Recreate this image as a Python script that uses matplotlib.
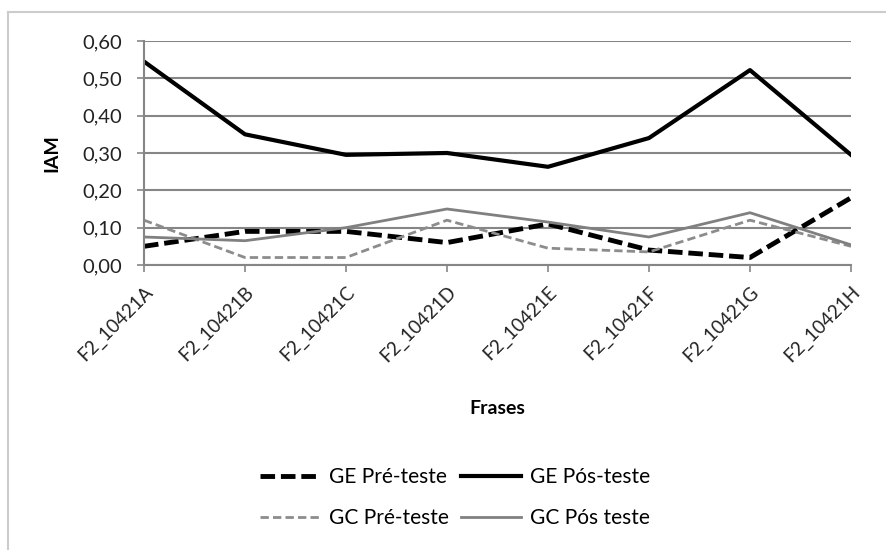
import matplotlib.pyplot as plt
from matplotlib.lines import Line2D

frases = ['F2_10421A', 'F2_10421B', 'F2_10421C', 'F2_10421D',
          'F2_10421E', 'F2_10421F', 'F2_10421G', 'F2_10421H']
ge_pre = [0.05, 0.09, 0.09, 0.06, 0.11, 0.04, 0.02, 0.18]
ge_pos = [0.545, 0.35, 0.295, 0.30, 0.263, 0.34, 0.522, 0.295]
gc_pre = [0.12, 0.02, 0.02, 0.12, 0.045, 0.035, 0.12, 0.05]
gc_pos = [0.075, 0.065, 0.10, 0.15, 0.115, 0.075, 0.14, 0.054]
y_ticks = [0.0, 0.1, 0.2, 0.3, 0.4, 0.5, 0.6]

plt.rcParams['font.family'] = ['Lato', 'DejaVu Sans']

fig = plt.figure(figsize=(8.87, 5.5), dpi=100)
ax = fig.add_axes([0.1623, 0.5182, 0.7971, 0.4073])

x = range(len(frases))
l1, = ax.plot(x, ge_pre, color='black', lw=3.5, ls=(0, (3, 1.2)), label='GE Pré-teste')
l2, = ax.plot(x, ge_pos, color='black', lw=3.0, label='GE Pós-teste')
l3, = ax.plot(x, gc_pre, color='#8c8c8c', lw=2.0, ls=(0, (3, 1.5)), label='GC Pré-teste')
l4, = ax.plot(x, gc_pos, color='#808080', lw=2.0, label='GC Pós teste')

ax.set_xlim(0, len(frases) - 1)
ax.set_ylim(0, 0.6)
ax.set_yticks(y_ticks)
ax.set_yticklabels([f'{v:.2f}'.replace('.', ',') for v in y_ticks], fontsize=14.5, color='#222222')
ax.set_xticks(list(x))
ax.set_xticklabels(frases, rotation=45, ha='right', va='top', rotation_mode='anchor',
                   fontsize=13.5, color='#222222')
ax.tick_params(axis='both', direction='out', length=5, width=1.2, color='#868686')
ax.tick_params(axis='y', pad=11)
ax.tick_params(axis='x', pad=8)

ax.grid(axis='y', color='#868686', lw=1.5)
ax.set_axisbelow(True)
for s in ['top', 'right']:
    ax.spines[s].set_visible(False)
for s in ['left', 'bottom']:
    ax.spines[s].set_color('#868686')
    ax.spines[s].set_linewidth(1.5)

fig.text(0.058, 0.722, 'IAM', fontsize=14, fontweight='bold', rotation=90, ha='center', va='center')
fig.text(0.561, 0.258, 'Frases', fontsize=14, fontweight='bold', ha='center', va='center')

# column-wise fill: GE on first row, GC on second row
fig.legend([l1, l3, l2, l4], [l1.get_label(), l3.get_label(), l2.get_label(), l4.get_label()],
           ncol=2, loc='center', bbox_to_anchor=(0.513, 0.095),
           frameon=False, fontsize=15, handlelength=2.85, handletextpad=0.45,
           columnspacing=0.6, labelspacing=1.0)

# outer chart frame (top and left only visible)
fig.add_artist(Line2D([0.009, 1.0], [0.978, 0.978], color='#cccccc', lw=1.5, transform=fig.transFigure))
fig.add_artist(Line2D([0.009, 0.009], [0.0, 0.978], color='#cccccc', lw=1.5, transform=fig.transFigure))

fig.savefig('out.png', dpi=100)
